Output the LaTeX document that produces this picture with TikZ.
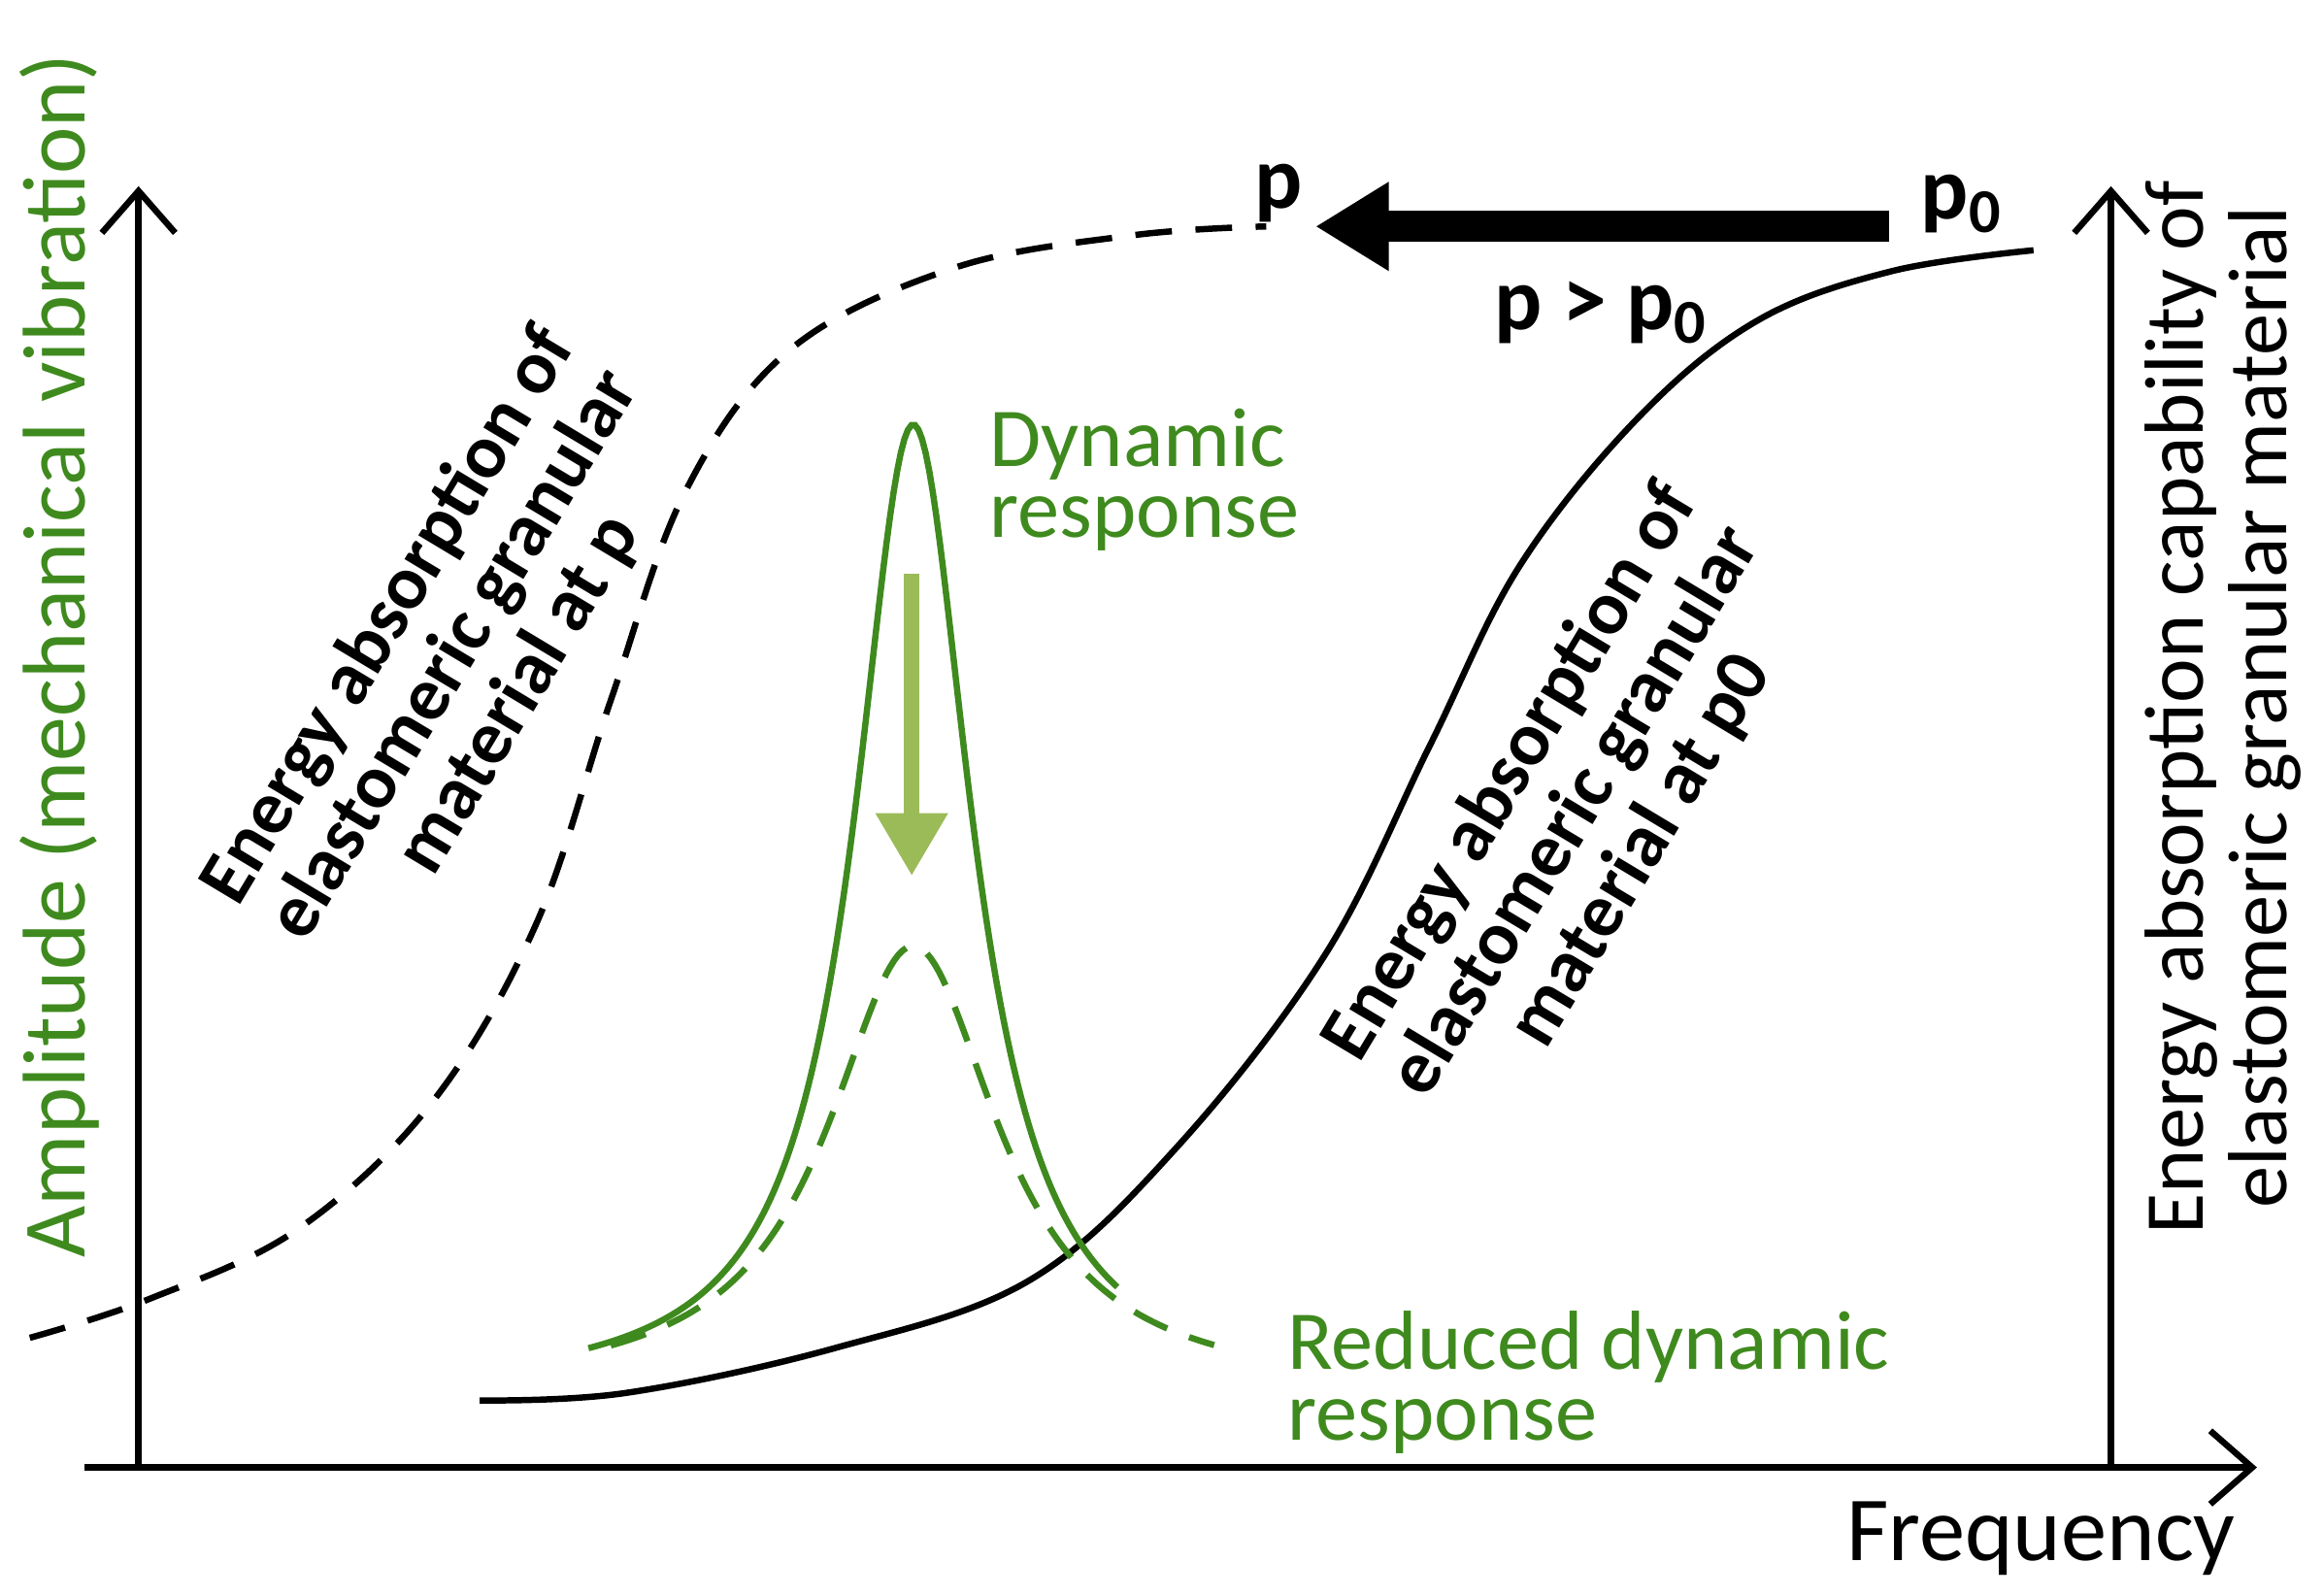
\documentclass[tikz,border=0pt]{standalone}
\usepackage{fontspec}
\setmainfont{Carlito}
\usetikzlibrary{arrows.meta}
\definecolor{dg}{HTML}{3F8A1E}
\definecolor{lg}{HTML}{9BBB59}
\begin{document}
\begin{tikzpicture}[x=0.01cm,y=-0.01cm,
  axis/.style={line width=1.2pt,-{Straight Barb[length=8pt,width=14pt,line width=1.2pt]}},
  crv/.style={line width=1.2pt},
  dsh/.style={line width=1.2pt,dash pattern=on 7pt off 4.5pt},
  lbl/.style={font=\fontsize{16}{16}\selectfont},
  rot/.style={font=\fontsize{14.5}{14.5}\selectfont\bfseries,align=center,rotate=59}]
\useasboundingbox (0,0) rectangle (1560,1071);
\coordinate (o) at (57,985); \coordinate (xe) at (1515,985);
\coordinate (lb) at (93,985); \coordinate (lt) at (93,125);
\coordinate (rb) at (1417,985); \coordinate (rt) at (1417,125);
\draw[axis] (o) -- (xe);
\draw[axis] (lb) -- (lt);
\draw[axis] (rb) -- (rt);
\node[lbl,text=dg,rotate=90,font=\fontsize{17}{17}\selectfont] (yl) at (40,440) {Amplitude (mechanical vibration)};
\node[lbl,rotate=90,align=center] (yr) at (1492,475) {Energy absorption capability of\\elastomeric granular material};
\node[lbl,font=\fontsize{17.5}{18}\selectfont] (fq) at (1370,1033) {Frequency};
% dashed sigmoid
\draw[dsh] plot[smooth,tension=0.6] coordinates {(20,898) (100,872) (200,825) (290,740) (360,620) (410,470) (460,330) (530,235) (640,180) (760,158) (850,152)};
% solid sigmoid
\draw[crv] plot[smooth,tension=0.6] coordinates {(322,940) (420,935) (560,905) (690,860) (790,770) (890,640) (960,500) (1020,380) (1100,280) (1180,215) (1270,182) (1365,168)};
% green peaks
\draw[crv,dg] plot[domain=395:750,samples=150] (\x,{935-650/(1+((\x-613)/48)^2)});
\draw[dsh,dg] plot[domain=410:815,samples=150] (\x,{935-300/(1+((\x-613)/70)^2)});
\coordinate (ga) at (612,385); \coordinate (gb) at (612,588);
\draw[lg,line width=3pt,-{Triangle[length=12pt,width=13pt]}] (ga) -- (gb);
\coordinate (ba) at (1268,152); \coordinate (bb) at (883,152);
\draw[line width=6pt,-{Triangle[length=14pt,width=16pt]}] (ba) -- (bb);
\node[lbl,font=\fontsize{17}{17}\selectfont\bfseries] (p) at (858,130) {p};
\node[lbl,font=\fontsize{17}{17}\selectfont\bfseries] (p0) at (1317,137) {p$_\mathbf{0}$};
\node[lbl,font=\fontsize{17}{17}\selectfont\bfseries] (pp) at (1075,210) {p > p$_\mathbf{0}$};
\node[lbl,text=dg,align=left,anchor=west,font=\fontsize{16}{13.5}\selectfont] (dr) at (652,322) {Dynamic\\response};
\node[lbl,text=dg,align=left,anchor=west,font=\fontsize{16}{13.5}\selectfont] (rdr) at (852,928) {Reduced dynamic\\response};
\node[rot] (t1) at (305,440) {Energy absorption of\\elastomeric granular\\material at p};
\node[rot] (t2) at (1058,545) {Energy absorption of\\elastomeric granular\\material at p0};
\end{tikzpicture}
\end{document}
